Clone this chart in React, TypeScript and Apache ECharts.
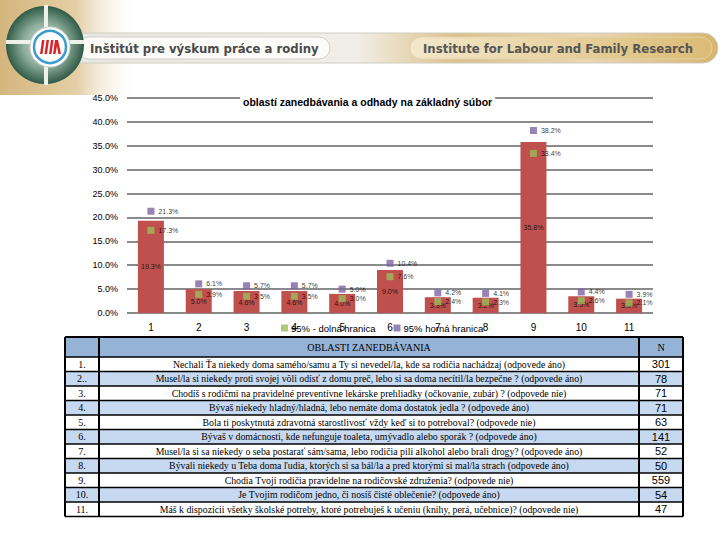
import React, { useEffect, useRef } from "react";
import * as echarts from "echarts";

const categories = ["1", "2", "3", "4", "5", "6", "7", "8", "9", "10", "11"];
const meanValues = [19.3, 5.0, 4.6, 4.6, 4.0, 9.0, 3.3, 3.2, 35.8, 3.5, 3.0];
const upperValues = [21.3, 6.1, 5.7, 5.7, 5.0, 10.4, 4.2, 4.1, 38.2, 4.4, 3.9];
const lowerValues = [17.3, 3.9, 3.5, 3.5, 3.0, 7.6, 2.4, 2.3, 33.4, 2.6, 2.1];

const chartTitle = "oblastí zanedbávania a odhady na základný súbor";
const lowerName = "95% - dolná hranica";
const upperName = "95% horná hranica";

const rowNumbers = ["1.", "2..", "3.", "4.", "5.", "6.", "7.", "8.", "9.", "10.", "11."];
const questions = [
  "Nechali Ťa niekedy doma samého/samu a Ty si nevedel/la, kde sa rodičia nachádzaj (odpovede áno)",
  "Musel/la si niekedy proti svojej vôli odísť z domu preč, lebo si sa doma necítil/la bezpečne ? (odpovede áno)",
  "Chodíš s rodičmi na pravidelné preventívne lekárske prehliadky (očkovanie, zubár) ? (odpovede nie)",
  "Bývaš niekedy hladný/hladná, lebo nemáte doma dostatok jedla ? (odpovede áno)",
  "Bola ti poskytnutá zdravotná starostlivosť vždy keď si to potreboval? (odpovede nie)",
  "Bývaš v domácnosti, kde nefunguje toaleta, umývadlo alebo sporák ? (odpovede áno)",
  "Musel/la si sa niekedy o seba postarať sám/sama, lebo rodičia pili alkohol alebo brali drogy? (odpovede áno)",
  "Bývali niekedy u Teba doma ľudia, ktorých si sa bál/la a pred ktorými si mal/la strach (odpovede áno)",
  "Chodia Tvoji rodičia pravidelne na rodičovské združenia? (odpovede nie)",
  "Je Tvojim rodičom jedno, či nosíš čisté oblečenie? (odpovede áno)",
  "Máš k dispozícii všetky školské potreby, ktoré potrebuješ k učeniu (knihy, perá, učebnice)? (odpovede nie)",
];
const nValues = ["301", "78", "71", "71", "63", "141", "52", "50", "559", "54", "47"];
const tableHeader = "OBLASTI ZANEDBÁVANIA";
const nHeader = "N";
const bannerLeft = "Inštitút pre výskum práce a rodiny";
const bannerRight = "Institute for Labour and Family Research";

const pct = (p: any) => Number(p.value).toFixed(1) + "%";

function buildBanner(): any[] {
  const LG = echarts.graphic.LinearGradient;
  const RG = echarts.graphic.RadialGradient;
  const els: any[] = [];
  els.push({
    type: "rect",
    shape: { x: 0, y: 0, width: 140, height: 95 },
    style: {
      fill: new LG(0, 0, 1, 0, [
        { offset: 0, color: "#d4b67e" },
        { offset: 0.55, color: "#e4cfa6" },
        { offset: 1, color: "rgba(255,255,255,0)" },
      ]),
    },
    silent: true,
  });
  els.push({
    type: "rect",
    shape: { x: 62, y: 33, width: 656, height: 30, r: 15 },
    style: {
      fill: new LG(0, 0, 1, 0, [
        { offset: 0, color: "#e6e6e2" },
        { offset: 0.45, color: "#f1eee7" },
        { offset: 0.6, color: "#dcc08a" },
        { offset: 0.8, color: "#e9d8b2" },
        { offset: 1, color: "#d6b46c" },
      ]),
      stroke: "#d0ccc2",
      lineWidth: 1,
    },
  });
  els.push({
    type: "rect",
    shape: { x: 78, y: 37, width: 252, height: 22, r: 11 },
    style: { fill: "#fbfbf8", stroke: "#cfcfcf", lineWidth: 1 },
  });
  els.push({
    type: "rect",
    shape: { x: 410, y: 37, width: 302, height: 22, r: 11 },
    style: {
      fill: new LG(0, 0, 1, 0, [
        { offset: 0, color: "#f3e8cc" },
        { offset: 1, color: "#dcbb74" },
      ]),
      stroke: "#e2d2ad",
      lineWidth: 1,
    },
  });
  els.push({
    type: "text",
    x: 90,
    y: 48,
    style: {
      text: bannerLeft,
      fill: "#4a4a4a",
      font: 'bold 13px "Liberation Sans Narrow", "DejaVu Sans Condensed", sans-serif',
      verticalAlign: "middle",
    },
  });
  els.push({
    type: "text",
    x: 423,
    y: 48,
    style: {
      text: bannerRight,
      fill: "#555555",
      font: 'bold 13px "Liberation Sans Narrow", "DejaVu Sans Condensed", sans-serif',
      verticalAlign: "middle",
    },
  });
  // logo
  els.push({
    type: "circle",
    shape: { cx: 45, cy: 45, r: 39 },
    style: {
      fill: new RG(0.5, 0.5, 0.5, [
        { offset: 0, color: "#dfe8e2" },
        { offset: 0.55, color: "#8fae9c" },
        { offset: 1, color: "#2f5a47" },
      ]),
    },
  });
  els.push({ type: "rect", shape: { x: 44, y: 5, width: 4, height: 80 }, style: { fill: "#eef0ea" } });
  els.push({ type: "rect", shape: { x: 6, y: 40, width: 78, height: 4 }, style: { fill: "#eef0ea" } });
  els.push({
    type: "circle",
    shape: { cx: 50, cy: 47, r: 20 },
    style: { fill: "#ffffff", stroke: "#cfd3cf", lineWidth: 1 },
  });
  els.push({
    type: "circle",
    shape: { cx: 50, cy: 47, r: 16 },
    style: { fill: "#ffffff", stroke: "#3a9bd0", lineWidth: 2.5 },
  });
  const stripes = [40, 44.5, 49];
  stripes.forEach((sx) => {
    els.push({
      type: "polygon",
      shape: { points: [[sx + 2, 40], [sx + 4.5, 40], [sx + 2.5, 54], [sx, 54]] },
      style: { fill: "#d6262b" },
    });
  });
  els.push({
    type: "polygon",
    shape: { points: [[55, 40], [58, 40], [61, 54], [58.3, 54], [57, 46], [55.5, 54], [53, 54]] },
    style: { fill: "#d6262b" },
  });
  return els;
}

function buildTable(): any[] {
  const els: any[] = [];
  const x0 = 65, x1 = 99, x2 = 639, x3 = 683;
  const headY = 337, headH = 20, rowH = 14.5;
  const serif = '"Liberation Serif", "DejaVu Serif", serif';
  els.push({
    type: "rect",
    shape: { x: x0, y: headY, width: x3 - x0, height: headH },
    style: { fill: "#95b3d7" },
  });
  rowNumbers.forEach((_, i) => {
    els.push({
      type: "rect",
      shape: { x: x0, y: headY + headH + i * rowH, width: x3 - x0, height: rowH },
      style: { fill: i % 2 === 1 ? "#c6d9f1" : "#ffffff" },
    });
  });
  const bottom = headY + headH + rowNumbers.length * rowH;
  for (let i = 0; i <= rowNumbers.length; i++) {
    const y = headY + headH + i * rowH;
    els.push({
      type: "line",
      shape: { x1: x0, y1: y, x2: x3, y2: y },
      style: { stroke: "#000", lineWidth: 1.5 },
    });
  }
  els.push({ type: "line", shape: { x1: x0, y1: headY, x2: x3, y2: headY }, style: { stroke: "#000", lineWidth: 2 } });
  [x0, x1, x2, x3].forEach((x) => {
    els.push({ type: "line", shape: { x1: x, y1: headY, x2: x, y2: bottom }, style: { stroke: "#000", lineWidth: 2 } });
  });
  els.push({
    type: "text",
    x: (x1 + x2) / 2,
    y: headY + headH / 2,
    style: { text: tableHeader, font: "10px " + serif, fill: "#000", align: "center", verticalAlign: "middle" },
  });
  els.push({
    type: "text",
    x: (x2 + x3) / 2,
    y: headY + headH / 2,
    style: { text: nHeader, font: "10px " + serif, fill: "#000", align: "center", verticalAlign: "middle" },
  });
  rowNumbers.forEach((num, i) => {
    const cy = headY + headH + i * rowH + rowH / 2;
    els.push({
      type: "text",
      x: (x0 + x1) / 2,
      y: cy,
      style: { text: num, font: "10px " + serif, fill: "#000", align: "center", verticalAlign: "middle" },
    });
    els.push({
      type: "text",
      x: (x1 + x2) / 2,
      y: cy,
      style: { text: questions[i], font: "9.8px " + serif, fill: "#000", align: "center", verticalAlign: "middle" },
    });
    els.push({
      type: "text",
      x: (x2 + x3) / 2,
      y: cy,
      style: {
        text: nValues[i],
        font: '11px "Liberation Sans", sans-serif',
        fill: "#000",
        align: "center",
        verticalAlign: "middle",
      },
    });
  });
  return els;
}

export default function App() {
  const ref = useRef<HTMLDivElement>(null);
  useEffect(() => {
    if (!ref.current) return;
    const chart = echarts.init(ref.current, undefined, { renderer: "svg" });
    const font = '"Liberation Sans", sans-serif';
    chart.setOption({
      animation: false,
      backgroundColor: "#ffffff",
      textStyle: { fontFamily: font },
      title: {
        text: chartTitle,
        left: 240,
        top: 95,
        padding: [1, 3],
        backgroundColor: "#ffffff",
        textStyle: { fontSize: 10.5, fontWeight: "bold", color: "#000", fontFamily: font },
        z: 10,
      },
      legend: {
        left: 276,
        top: 318,
        itemWidth: 7,
        itemHeight: 7,
        itemGap: 18,
        icon: "rect",
        data: [lowerName, upperName],
        textStyle: { fontSize: 9.5, color: "#000", fontFamily: font, padding: [0, 0, 0, -2] },
      },
      grid: { left: 127, right: 67, top: 98, bottom: 227, containLabel: false },
      xAxis: {
        type: "category",
        data: categories,
        axisLine: { show: false },
        axisTick: { show: false },
        axisLabel: { fontSize: 10, color: "#000", margin: 9 },
      },
      yAxis: {
        type: "value",
        min: 0,
        max: 45,
        interval: 5,
        axisLine: { show: false },
        axisTick: { show: false },
        axisLabel: {
          fontSize: 9,
          color: "#000",
          margin: 9,
          formatter: (v: number) => v.toFixed(1) + "%",
        },
        splitLine: { lineStyle: { color: "#8a8a8a", width: 2 } },
      },
      series: [
        {
          name: "mean",
          type: "bar",
          data: meanValues,
          barWidth: 26,
          itemStyle: { color: "#c0504d" },
          label: { show: true, position: "inside", fontSize: 7, color: "#1a1a1a", formatter: pct },
          z: 2,
        },
        {
          name: lowerName,
          type: "scatter",
          data: lowerValues,
          symbol: "rect",
          symbolSize: 7,
          itemStyle: { color: "#9bbb59" },
          label: { show: true, position: "right", distance: 4, fontSize: 7, color: "#000", formatter: pct },
          z: 3,
        },
        {
          name: upperName,
          type: "scatter",
          data: upperValues,
          symbol: "rect",
          symbolSize: 7,
          itemStyle: { color: "#8064a2" },
          label: { show: true, position: "right", distance: 4, fontSize: 7, color: "#000", formatter: pct },
          z: 3,
        },
      ],
      graphic: [...buildBanner(), ...buildTable()],
    });
    return () => chart.dispose();
  }, []);
  return (
    <div
      ref={ref}
      style={{ position: "fixed", left: 0, top: 0, width: 720, height: 540, background: "#fff" }}
    />
  );
}
